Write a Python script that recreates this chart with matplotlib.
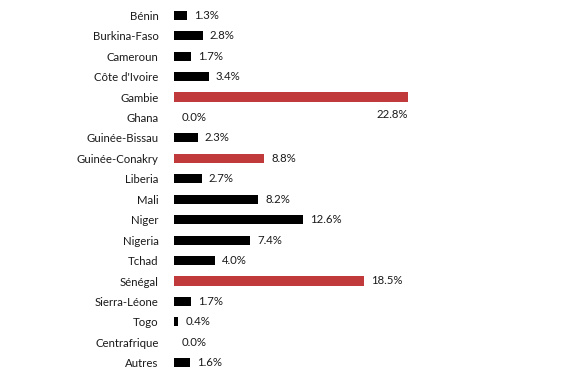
import matplotlib
matplotlib.use("Agg")
import matplotlib.pyplot as plt

categories = ["Bénin", "Burkina-Faso", "Cameroun", "Côte d'Ivoire", "Gambie", "Ghana",
              "Guinée-Bissau", "Guinée-Conakry", "Liberia", "Mali", "Niger", "Nigeria",
              "Tchad", "Sénégal", "Sierra-Léone", "Togo", "Centrafrique", "Autres"]
values = [1.3, 2.8, 1.7, 3.4, 22.8, 0.0, 2.3, 8.8, 2.7, 8.2, 12.6, 7.4, 4.0, 18.5, 1.7, 0.4, 0.0, 1.6]
highlight = ["Gambie", "Guinée-Conakry", "Sénégal"]

plt.rcParams['font.family'] = ['Lato', 'DejaVu Sans']

fig = plt.figure(figsize=(5.78, 3.78), dpi=100)
ax = fig.add_axes([174/578, 5/378, 404/578, 368/378])

colors = ["#C0393B" if c in highlight else "#000000" for c in categories]
y = list(range(len(categories)))
ax.barh(y, values, height=0.45, color=colors)

ax.set_ylim(len(categories) - 0.5, -0.5)
ax.set_xlim(0, 39.4)
ax.set_yticks(y)
ax.set_yticklabels(categories, fontsize=8.2, color="#1a1a1a")
ax.tick_params(axis='y', length=0, pad=11)
ax.set_xticks([])
for s in ax.spines.values():
    s.set_visible(False)

for i, (c, v) in enumerate(zip(categories, values)):
    lab = f"{v:.1f}%"
    if c == "Gambie":
        ax.text(v, i + 0.88, lab, ha='right', va='center', fontsize=8.2, color="#1a1a1a")
    else:
        ax.text(v + 0.7, i, lab, ha='left', va='center', fontsize=8.2, color="#1a1a1a")

fig.savefig("out.png", dpi=100)
